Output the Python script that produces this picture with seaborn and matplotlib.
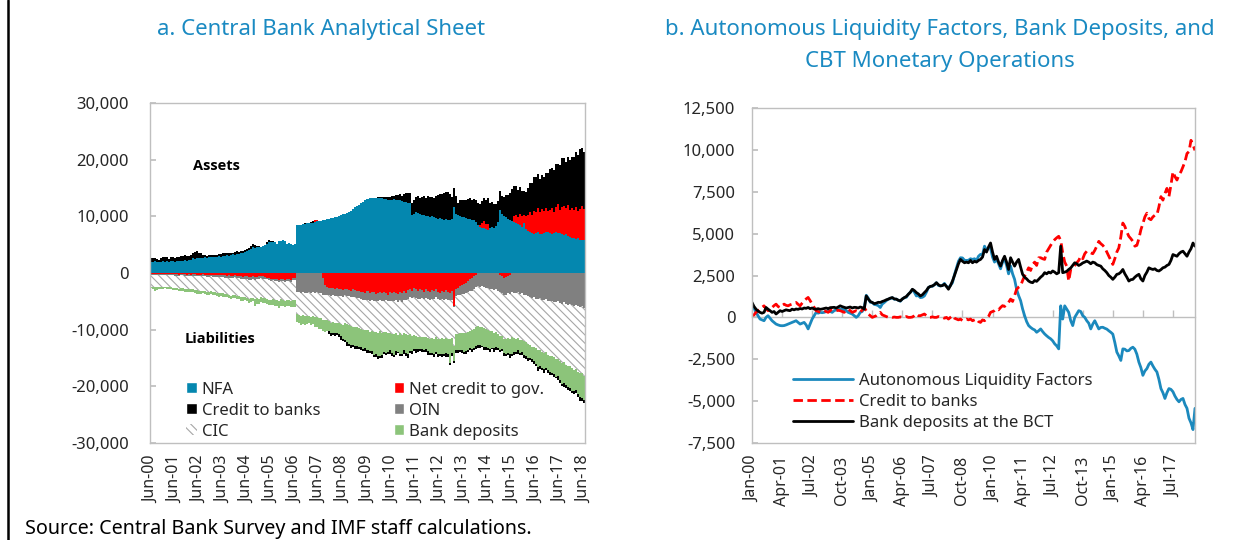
import numpy as np
import pandas as pd
import matplotlib
matplotlib.use("Agg")
import matplotlib.pyplot as plt
from matplotlib.lines import Line2D
from matplotlib.patches import Patch
from matplotlib.ticker import FuncFormatter
import seaborn as sns

# ---------------------------------------------------------------------------
# Panel b: monthly series, Jan-2000 ... Jun-2018 (millions of dinars)
# ---------------------------------------------------------------------------
credit_to_banks = [
    100, 150, 300, 400, 490, 600, 690, 520, 400, 480, 590, 700,            # 2000
    790, 650, 590, 700, 790, 720, 690, 750, 790, 850, 890, 780,            # 2001
    690, 850, 990, 1100, 1190, 1000, 790, 600, 400, 350, 300, 350,         # 2002
    400, 350, 300, 400, 490, 450, 400, 420, 400, 350, 300, 400,            # 2003
    490, 400, 300, 350, 400, 350, 300, 450, 590, 400, 200, 100,            # 2004
    0, 50, 100, 200, 300, 150, 100, 50, 0, 30, 0, 20,                      # 2005
    0, 0, 30, 0, 0, 50, 0, 0, 20, 100, 200, 100,                           # 2006
    100, 150, 200, 100, 0, 0, 30, 0, 0, 50, 0, 0,                          # 2007
    -50, 0, -100, 0, 100, -50, -100, -150, -100, -200, -150, -100,         # 2008
    -150, -100, -200, -150, -100, -250, -300, -150, -200, -100, 50, 300,   # 2009
    350, 400, 500, 450, 590, 700, 650, 800, 890, 1090, 950, 1300,          # 2010
    1680, 1800, 1880, 2200, 2470, 2700, 2960, 2800, 3160, 3300, 3100, 3560,  # 2011
    3560, 3500, 3460, 3900, 4100, 4300, 4500, 4640, 4750, 4840, 4600, 3850,  # 2012
    3300, 3060, 2170, 2860, 3000, 3100, 3260, 3400, 3650, 3500, 3800, 3950,  # 2013
    3900, 3850, 3800, 4000, 4250, 4540, 4400, 4300, 4150, 3900, 3650, 3400,  # 2014
    3160, 3500, 3900, 4150, 4800, 5630, 5430, 5100, 4840, 4700, 4540, 4250,  # 2015
    4300, 4700, 5230, 5600, 6000, 6220, 5900, 5830, 6000, 6100, 6120, 6600,  # 2016
    7210, 7000, 7400, 7700, 7210, 7900, 8690, 8400, 8200, 8500, 8700, 8990,  # 2017
    9300, 9780, 9900, 10570, 10300, 9970,                                    # 2018
]

bank_deposits = [
    890, 650, 490, 380, 300, 250, 300, 590, 490, 400, 300, 350,            # 2000
    200, 300, 400, 350, 400, 450, 420, 400, 490, 450, 500, 480,            # 2001
    530, 500, 560, 540, 590, 520, 560, 500, 490, 520, 480, 500,            # 2002
    530, 560, 520, 580, 590, 600, 560, 620, 690, 640, 600, 560,            # 2003
    590, 620, 560, 600, 590, 560, 620, 580, 490, 1280, 1090, 950,          # 2004
    890, 820, 850, 900, 890, 950, 990, 1050, 1090, 1150, 1180, 1100,       # 2005
    1090, 1020, 990, 1100, 1180, 1250, 1380, 1500, 1680, 1600, 1480, 1400,  # 2006
    1280, 1350, 1480, 1600, 1780, 1850, 1880, 1950, 2070, 1950, 1880, 1900,  # 2007
    1980, 1850, 1680, 1900, 2170, 2500, 2860, 3200, 3460, 3350, 3260, 3300,  # 2008
    3260, 3400, 3260, 3350, 3300, 3400, 3460, 3600, 4050, 3900, 4200, 4440,  # 2009
    3900, 3460, 3650, 3300, 3060, 3400, 3650, 3300, 2860, 3560, 3300, 3060,  # 2010
    3300, 3460, 3000, 2570, 2400, 2300, 2170, 2100, 2070, 2200, 2150, 2270,  # 2011
    2400, 2500, 2670, 2600, 2700, 2650, 2770, 2700, 2600, 2670, 4250, 2670,  # 2012
    2700, 2750, 2860, 2950, 3100, 3260, 3200, 3100, 3160, 3250, 3300, 3360,  # 2013
    3300, 3200, 3300, 3260, 3150, 3100, 3060, 2900, 2800, 2670, 2500, 2400,  # 2014
    2270, 2400, 2570, 2600, 2700, 2860, 2600, 2400, 2170, 2250, 2270, 2400,  # 2015
    2500, 2570, 2300, 2170, 2500, 2700, 2960, 2900, 2860, 2900, 2800, 2770,  # 2016
    2850, 2960, 3000, 3100, 3160, 3400, 3750, 3700, 3650, 3800, 3900, 3950,  # 2017
    3800, 3650, 3900, 4100, 4440, 4250,                                      # 2018
]

autonomous_factors = [
    790, 550, 300, 100, -100, -150, -200, 0, 100, -50, -200, -300,        # 2000
    -400, -450, -490, -500, -490, -450, -400, -350, -300, -250, -200, -300,  # 2001
    -400, -350, -300, -450, -690, -400, -100, 100, 300, 250, 300, 280,     # 2002
    300, 350, 400, 350, 300, 400, 450, 470, 490, 480, 450, 400,            # 2003
    300, 250, 200, 100, 0, 100, 300, 350, 590, 1320, 1150, 900,            # 2004
    890, 770, 750, 700, 590, 800, 890, 1000, 1090, 1120, 1180, 1080,       # 2005
    1090, 1020, 960, 1100, 1180, 1200, 1380, 1500, 1660, 1500, 1280, 1300,  # 2006
    1180, 1200, 1280, 1500, 1780, 1850, 1850, 1950, 2070, 1900, 1880, 1900,  # 2007
    2030, 1850, 1780, 1900, 2070, 2550, 2960, 3350, 3560, 3550, 3410, 3400,  # 2008
    3410, 3500, 3460, 3500, 3400, 3650, 3760, 3750, 4250, 4000, 4150, 4140,  # 2009
    3600, 3300, 3500, 3200, 2900, 3300, 3500, 3100, 2600, 3060, 2600, 2270,  # 2010
    1680, 1300, 1000, 500, 100, -250, -490, -600, -690, -750, -890, -800,   # 2011
    -690, -850, -990, -1100, -1200, -1280, -1400, -1580, -1700, -1880, 690, -100,  # 2012
    690, 500, 300, -200, -490, 0, 200, 400, 350, 100, 0, -200,             # 2013
    -350, -690, -400, -200, -450, -690, -600, -590, -650, -700, -800, -890,  # 2014
    -1000, -1500, -2070, -2300, -2570, -1880, -1900, -2000, -1980, -1850, -1780, -1900,  # 2015
    -2200, -2670, -3000, -3460, -3200, -3060, -2800, -2670, -2900, -3100, -3260, -3700,  # 2016
    -4250, -4500, -4840, -4500, -4250, -4300, -4440, -4700, -4900, -5040, -4900, -4840,  # 2017
    -5200, -5430, -6020, -6300, -6700, -5430,                                # 2018
]

# ---------------------------------------------------------------------------
# Panel a: central bank balance sheet, Jun-2000 ... Jun-2018
# ---------------------------------------------------------------------------
net_foreign_assets = [
    2000, 1950, 2050, 2000, 1900, 2000, 2050,                               # 2000 (Jun-Dec)
    2000, 2100, 1950, 2050, 2100, 2000, 2150, 2100, 2200, 2150, 2250, 2200,  # 2001
    2300, 2250, 2600, 2550, 2650, 2600, 2700, 2650, 2750, 2700, 2800, 2750,  # 2002
    2850, 2800, 2900, 2950, 2900, 3000, 3050, 3100, 3050, 3200, 3300, 3250,  # 2003
    3400, 3350, 3500, 3600, 3700, 3900, 4100, 4300, 4600, 4500, 4550, 4600,  # 2004
    4600, 4700, 4900, 5200, 5500, 5450, 5500, 5400, 5200, 5600, 5700, 5800,  # 2005
    5600, 5200, 5300, 5100, 5000, 5100, 8500, 8400, 8500, 8600, 8700, 8800,  # 2006
    8750, 8800, 8900, 9000, 9100, 9150, 9200, 9300, 9400, 9500, 9600, 9650,  # 2007
    9700, 9800, 9900, 10000, 10200, 10400, 10500, 10600, 10800, 11000, 11300, 11600,  # 2008
    11800, 12000, 12300, 12500, 12800, 13000, 13200, 13300, 13250, 13200, 13300, 13200,  # 2009
    13150, 13100, 13000, 12900, 12800, 12900, 13000, 12900, 12800, 12900, 12700, 12600,  # 2010
    12500, 12400, 12300, 10200, 10500, 10800, 10600, 10400, 10200, 10300, 10100, 10000,  # 2011
    9900, 10000, 9800, 9700, 9600, 9700, 9500, 9400, 9500, 9400, 9300, 9600,  # 2012
    11700, 10500, 10200, 10000, 9900, 9800, 9700, 9600, 9500, 9400, 9300, 9000,  # 2013
    8500, 8200, 7900, 8000, 7800, 7600, 7900, 8200, 8000, 8300, 9000, 11100,  # 2014
    10500, 10000, 9800, 9600, 9400, 9200, 9000, 8800, 8600, 8400, 8200, 8800,  # 2015
    7800, 7500, 7200, 7000, 6900, 7100, 7300, 6900, 6800, 7000, 7200, 7300,  # 2016
    7100, 6900, 7000, 7200, 7100, 7000, 6800, 6700, 6900, 6500, 6300, 6200,  # 2017
    6100, 6000, 6200, 5900, 5800, 5800,                                      # 2018
]

net_credit_to_gov = [
    -200, -150, -200, -250, -200, -150, -200,                               # 2000
    -200, -250, -200, -150, -200, -250, -200, -300, -250, -200, -250, -300,  # 2001
    -250, -300, -200, -250, -300, -350, -300, -250, -300, -350, -300, -300,  # 2002
    -350, -300, -400, -350, -300, -350, -400, -450, -400, -500, -450, -400,  # 2003
    -500, -450, -600, -650, -550, -600, -700, -650, -600, -700, -650, -600,  # 2004
    -500, -600, -700, -800, -900, -1000, -1000, -1100, -1100, -1200, -1000, -1100,  # 2005
    -1200, -1100, -1000, -1200, -900, -800, 0, 0, 0, 0, 0, 0,               # 2006
    0, 0, 0, 300, 300, 0, 0, -800, -2200, -2500, -2600, -2700,              # 2007
    -2600, -2800, -2700, -2900, -2800, -3000, -2900, -2800, -3000, -3100, -2900, -3000,  # 2008
    -3200, -3100, -3400, -3300, -3500, -3200, -3600, -3400, -3300, -3700, -3500, -3400,  # 2009
    -3600, -3300, -3500, -3800, -3400, -3600, -3300, -3500, -3700, -3400, -3600, -3200,  # 2010
    -3500, -3000, -2800, -3100, -2700, -2900, -3200, -2800, -3000, -3300, -2900, -3100,  # 2011
    -3400, -3000, -3200, -2800, -3300, -3500, -3100, -3400, -3000, -3300, -3600, -3200,  # 2012
    -5800, -2900, -2600, -2300, -2100, -2000, -1700, -1400, -1100, -900, -600, -300,  # 2013
    0, 200, 1000, 1200, 900, 1100, 0, 0, 0, 0, 0, -400,                     # 2014
    -600, -900, -700, -500, -400, 0, 1000, 1500, 1200, 2000, 1800, 1500,    # 2015
    2200, 2800, 3500, 3200, 4000, 3600, 4200, 3800, 4500, 3900, 4300, 3700,  # 2016
    4100, 4600, 3800, 4400, 5000, 4200, 4800, 5200, 4500, 5500, 4900, 5300,  # 2017
    5000, 5600, 4800, 5400, 6000, 5500,                                      # 2018
]

other_items_net = [
    200, 250, 200, 150, 200, 250, 200,                                      # 2000
    200, 150, 200, 250, 200, 200, 250, 200, 150, 200, 250, 200,             # 2001
    250, 200, 250, 300, 250, 200, 250, 300, 250, 300, 350, 300,             # 2002
    300, 350, 300, 400, 350, 300, 400, 350, 400, 450, 400, 350,             # 2003
    400, 450, 500, 400, 450, 500, 550, 500, 450, 500, 400, 450,             # 2004
    400, 450, 300, 250, 300, 350, 300, 350, 300, 400, 350, 300,             # 2005
    350, 300, 350, 300, 400, 350, 3300, 3400, 3500, 3300, 3600, 3500,       # 2006
    3400, 3600, 3300, 3500, 3400, 3600, 3500, 3000, 1600, 1300, 1200, 1400,  # 2007
    1300, 1200, 1400, 1100, 1300, 1200, 1000, 1300, 1100, 1200, 1400, 1300,  # 2008
    1200, 1300, 1100, 1400, 1200, 1500, 1300, 1400, 1600, 1200, 1500, 1300,  # 2009
    1400, 1600, 1300, 1200, 1500, 1400, 1700, 1300, 1500, 1400, 1600, 1500,  # 2010
    1200, 1500, 1400, 1300, 1600, 1500, 1300, 1700, 1400, 1200, 1500, 1400,  # 2011
    1300, 1600, 1400, 1500, 1300, 1200, 1400, 1300, 1500, 1400, 1200, 1500,  # 2012
    200, 1100, 1300, 1500, 1600, 1700, 1900, 2000, 2100, 2200, 2300, 2200,  # 2013
    2300, 2400, 2300, 2500, 2600, 2700, 2900, 2800, 3000, 2900, 3100, 3000,  # 2014
    2900, 3000, 3200, 3100, 3300, 3400, 3500, 3600, 3400, 3700, 3600, 3800,  # 2015
    3900, 4100, 4200, 4400, 4300, 4500, 4600, 4400, 4700, 4800, 4600, 4900,  # 2016
    5000, 4900, 5100, 5200, 5000, 5300, 5400, 5200, 5500, 5600, 5400, 5700,  # 2017
    5800, 5600, 5900, 6000, 5800, 6100,                                      # 2018
]

currency_in_circulation = [
    2000, 2050, 2100, 2050, 2000, 2100, 2150,                               # 2000
    2100, 2050, 2100, 2150, 2200, 2150, 2200, 2250, 2300, 2250, 2300, 2350,  # 2001
    2400, 2350, 2400, 2450, 2500, 2550, 2600, 2550, 2600, 2650, 2700, 2650,  # 2002
    2700, 2750, 2800, 2850, 2800, 2900, 2950, 2900, 3000, 3050, 3000, 3100,  # 2003
    3150, 3100, 3200, 3250, 3200, 3300, 3350, 3300, 3400, 3350, 3400, 3450,  # 2004
    3400, 3350, 3400, 3450, 3500, 3400, 3350, 3300, 3400, 3350, 3300, 3400,  # 2005
    3350, 3400, 3450, 3400, 3500, 3550, 3900, 3950, 4000, 4100, 4050, 4150,  # 2006
    4200, 4250, 4300, 4350, 4300, 4400, 4450, 4500, 4550, 4500, 4600, 4650,  # 2007
    4700, 4750, 4800, 4850, 4900, 4950, 5000, 4950, 5050, 5100, 5150, 5200,  # 2008
    5200, 5250, 5300, 5350, 5300, 5400, 5450, 5400, 5500, 5450, 5500, 5550,  # 2009
    5500, 5550, 5600, 5650, 5600, 5700, 5750, 5700, 5800, 5850, 5800, 5900,  # 2010
    6100, 6400, 6600, 6800, 6700, 6750, 6800, 6850, 6900, 6850, 6900, 6950,  # 2011
    7000, 6950, 7000, 7050, 7000, 6950, 7000, 6900, 6950, 6900, 6850, 6800,  # 2012
    6800, 6750, 6800, 6850, 6800, 6900, 6950, 7000, 6950, 7000, 7050, 7100,  # 2013
    7100, 7150, 7200, 7250, 7300, 7350, 7400, 7450, 7500, 7550, 7600, 7700,  # 2014
    7700, 7750, 7800, 7850, 7900, 7950, 7900, 8000, 8050, 8100, 8150, 8200,  # 2015
    8300, 8400, 8500, 8600, 8700, 8800, 9000, 9100, 9200, 9300, 9400, 9500,  # 2016
    9600, 9700, 9800, 10000, 10100, 10200, 10400, 10500, 10700, 10800, 11000, 11100,  # 2017
    11300, 11400, 11600, 11700, 11900, 12000,                                # 2018
]

# liquidity absorbed from banks (liability side of the credit-to-banks item)
liquidity_absorbed = [
    0, 0, 0, 0, 0, 0, 0,                                                    # 2000
    0, 0, 0, 0, 0, 0, 0, 0, 0, 0, 0, 0,                                     # 2001
    0, 0, 0, 0, 0, 0, 0, 0, 0, 0, 0, 0,                                     # 2002
    0, 0, 0, 0, 0, 0, 0, 0, 0, 0, 0, 0,                                     # 2003
    0, 0, 0, 0, 0, 0, 0, 0, 0, 0, 0, 0,                                     # 2004
    0, 0, 0, 0, 0, 0, 0, 0, 0, 0, 0, 0,                                     # 2005
    0, 0, 0, 0, 0, 0, 0, 0, 0, 0, 0, 0,                                     # 2006
    0, 0, 0, 0, 0, 0, 0, 0, 0, 0, 400, 500,                                 # 2007
    400, 600, 300, 500, 700, 400, 500, 600, 300, 500, 400, 600,             # 2008
    500, 300, 600, 400, 500, 700, 300, 500, 400, 600, 500, 300,             # 2009
    600, 400, 500, 300, 700, 500, 400, 600, 300, 500, 400, 600,             # 2010
    500, 700, 300, 500, 400, 600, 500, 300, 600, 400, 500, 700,             # 2011
    300, 500, 600, 400, 500, 300, 600, 400, 700, 500, 300, 500,             # 2012
    400, 600, 500, 300, 500, 400, 600, 500, 300, 600, 400, 500,             # 2013
    600, 400, 300, 500, 600, 400, 500, 300, 600, 500, 400, 500,             # 2014
    300, 600, 400, 500, 700, 400, 500, 300, 600, 400, 500, 600,             # 2015
    400, 500, 300, 600, 500, 400, 700, 500, 300, 600, 400, 500,             # 2016
    600, 400, 500, 300, 600, 500, 400, 700, 500, 400, 600, 500,             # 2017
    400, 600, 500, 700, 500, 600,                                           # 2018
]

right_months = pd.date_range("2000-01-01", periods=len(credit_to_banks), freq="MS")
left_months = pd.date_range("2000-06-01", periods=len(net_foreign_assets), freq="MS")

# ---------------------------------------------------------------------------
# Style
# ---------------------------------------------------------------------------
sns.set_theme(style="white")
plt.rcParams["font.family"] = ["Noto Sans", "DejaVu Sans"]
plt.rcParams["hatch.linewidth"] = 0.8

TITLE_C = "#1A8AC2"
C_NFA = "#0487AF"
C_RED = "#FF0000"
C_GRAY = "#808080"
C_GREEN = "#8CC47A"
C_HATCH = "#A6A6A6"
C_ALF = "#1B89BD"
FRAME = "#BFBFBF"
TXT = "#262626"
HATCH = "\\\\\\\\"

thousands = FuncFormatter(lambda v, p: f"{v:,.0f}")

fig = plt.figure(figsize=(12.43, 5.40), dpi=100)
W, H = 1243, 540


def px_axes(x0, y0, x1, y1):
    return fig.add_axes([x0 / W, 1 - y1 / H, (x1 - x0) / W, (y1 - y0) / H])


def frame(ax):
    for s in ax.spines.values():
        s.set_visible(True)
        s.set_color(FRAME)
        s.set_linewidth(1.0)


# ---------------------------------------------------------------------------
# Panel a: stacked balance sheet
# ---------------------------------------------------------------------------
axL = px_axes(150, 103, 585, 443)
n = len(net_foreign_assets)
edges = np.arange(n + 1) - 0.5

nfa = np.array(net_foreign_assets, float)
ncg = np.array(net_credit_to_gov, float)
ctb_l = np.clip(np.array(credit_to_banks[5:], float), 0, None)
bd_l = np.array(bank_deposits[5:], float)
oin = np.array(other_items_net, float)
cic = np.array(currency_in_circulation, float)
absorb = np.array(liquidity_absorbed, float)

ncg_pos = np.clip(ncg, 0, None)
ncg_neg = np.clip(ncg, None, 0)

zero = np.zeros(n)
a1 = nfa
a2 = a1 + ncg_pos
a3 = a2 + ctb_l
l1 = ncg_neg
l2 = l1 - oin
l3 = l2 - cic
l4 = l3 - bd_l
l5 = l4 - absorb

axL.stairs(a1, edges, baseline=zero, fill=True, color=C_NFA, lw=0)
axL.stairs(a2, edges, baseline=a1, fill=True, color=C_RED, lw=0)
axL.stairs(a3, edges, baseline=a2, fill=True, color="black", lw=0)
axL.stairs(l1, edges, baseline=zero, fill=True, color=C_RED, lw=0)
axL.stairs(l2, edges, baseline=l1, fill=True, color=C_GRAY, lw=0)
axL.stairs(l3, edges, baseline=l2, fill=True, facecolor="white",
           edgecolor=C_HATCH, hatch=HATCH, lw=0)
axL.stairs(l4, edges, baseline=l3, fill=True, color=C_GREEN, lw=0)
axL.stairs(l5, edges, baseline=l4, fill=True, color="black", lw=0)

axL.set_xlim(-0.5, n - 0.5)
axL.set_ylim(-30000, 30000)
axL.set_yticks(np.arange(-30000, 30001, 10000))
axL.yaxis.set_major_formatter(thousands)
lt = np.arange(0, n, 12)
axL.set_xticks(lt)
axL.set_xticklabels(left_months[lt].strftime("%b-%y"), rotation=90)
axL.tick_params(axis="x", length=0, pad=9, labelsize=11.5, labelcolor=TXT)
axL.tick_params(axis="y", direction="in", length=4, color=FRAME, left=True,
                labelsize=12, labelcolor=TXT, pad=15)
frame(axL)

bold_font = dict(family=["Open Sans", "DejaVu Sans"], weight="bold", size=10.5)
axL.text(0.099, 0.815, "Assets", transform=axL.transAxes, color="black",
         va="center", fontdict=bold_font)
axL.text(0.080, 0.306, "Liabilities", transform=axL.transAxes, color="black",
         va="center", fontdict=bold_font)

legL = [
    Patch(facecolor=C_NFA, label="NFA"),
    Patch(facecolor="black", label="Credit to banks"),
    Patch(facecolor="white", edgecolor=C_HATCH, hatch=HATCH, lw=0, label="CIC"),
    Patch(facecolor=C_RED, label="Net credit to gov."),
    Patch(facecolor=C_GRAY, label="OIN"),
    Patch(facecolor=C_GREEN, label="Bank deposits"),
]
axL.legend(handles=legL, ncol=2, loc="lower left", bbox_to_anchor=(0.075, 0.0),
           frameon=False, fontsize=12, handlelength=0.65, handleheight=0.65,
           handletextpad=0.3, columnspacing=4.4, labelspacing=0.3,
           borderaxespad=0.0, borderpad=0.2)

# ---------------------------------------------------------------------------
# Panel b: liquidity lines
# ---------------------------------------------------------------------------
axR = px_axes(752, 108, 1195, 443)
m = np.arange(len(credit_to_banks))

sns.lineplot(x=m, y=autonomous_factors, ax=axR, color=C_ALF, lw=2.0,
             label="Autonomous Liquidity Factors")
sns.lineplot(x=m, y=credit_to_banks, ax=axR, color=C_RED, lw=2.0,
             linestyle=(0, (3.4, 1.6)), label="Credit to banks")
sns.lineplot(x=m, y=bank_deposits, ax=axR, color="black", lw=2.0,
             label="Bank deposits at the BCT")

axR.set_xlim(0, len(m) - 1)
axR.set_ylim(-7500, 12500)
axR.set_yticks(np.arange(-7500, 12501, 2500))
axR.yaxis.set_major_formatter(thousands)
rt = np.arange(0, len(m), 15)
axR.set_xticks(rt)
axR.set_xticklabels(right_months[rt].strftime("%b-%y"), rotation=90)
axR.tick_params(axis="x", length=0, pad=9, labelsize=11.5, labelcolor=TXT)
axR.tick_params(axis="y", direction="in", length=4, color=FRAME, left=True,
                labelsize=12, labelcolor=TXT, pad=12)
frame(axR)

# horizontal axis line at zero with upward tick marks
zero_frac = 7500 / 20000
sec = axR.secondary_xaxis(zero_frac)
sec.set_xticks(rt)
sec.tick_params(axis="x", direction="in", length=5, color=FRAME, width=1,
                labelbottom=False, labeltop=False)
for s in sec.spines.values():
    s.set_color(FRAME)
    s.set_linewidth(1.0)

axR.legend(loc="lower left", bbox_to_anchor=(0.085, 0.025), frameon=False,
           fontsize=12, handlelength=3.6, handletextpad=0.35,
           labelspacing=0.32, borderaxespad=0.0, borderpad=0.2)

# ---------------------------------------------------------------------------
# Titles, source note, border
# ---------------------------------------------------------------------------
fig.text(321 / W, 1 - 30 / H, "a. Central Bank Analytical Sheet", ha="center",
         va="center", fontsize=16, color=TITLE_C)
fig.text(940 / W, 1 - 30 / H, "b. Autonomous Liquidity Factors, Bank Deposits, and",
         ha="center", va="center", fontsize=16, color=TITLE_C)
fig.text(940 / W, 1 - 61 / H, "CBT Monetary Operations", ha="center",
         va="center", fontsize=16, color=TITLE_C)
fig.text(25 / W, 1 - 519 / H, "Source: Central Bank Survey and IMF staff calculations.",
         ha="left", va="top", fontsize=14.2, color="black")
fig.add_artist(Line2D([8 / W, 8 / W], [0, 1], transform=fig.transFigure,
                      color="black", lw=1.8))

fig.savefig("out.png", dpi=100)
